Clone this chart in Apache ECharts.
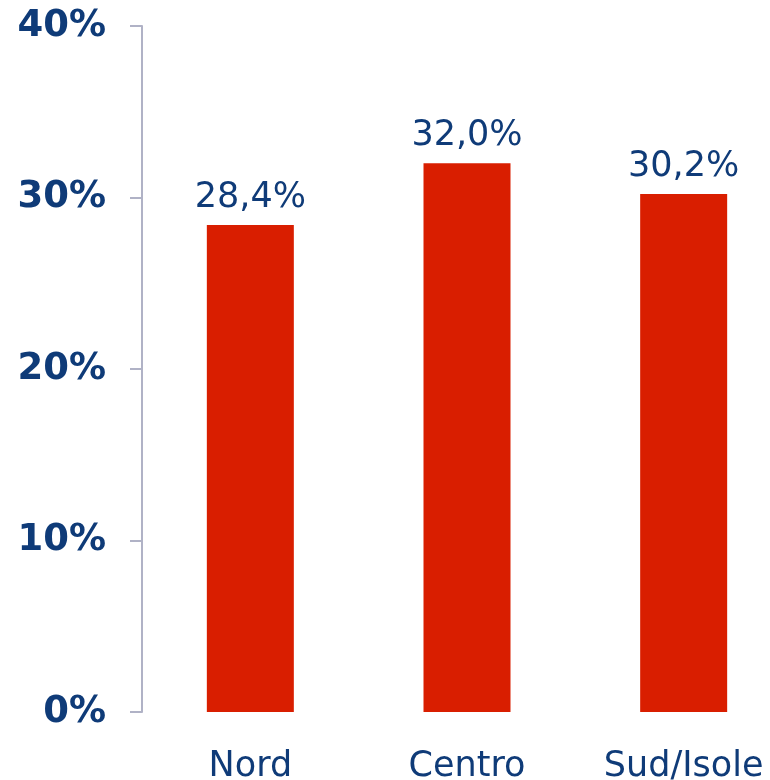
<!DOCTYPE html>
<html>
<head>
<meta charset="utf-8">
<script src="https://cdn.jsdelivr.net/npm/echarts@6/dist/echarts.min.js"></script>
<style>
  html, body { margin: 0; padding: 0; background: #fff; }
  #main { width: 770px; height: 780px; }
</style>
</head>
<body>
<div id="main"></div>
<script>
const categories = ['Nord', 'Centro', 'Sud/Isole'];
const values = [28.4, 32.0, 30.2];
const yMin = 0, yMax = 40, yStep = 10;

const textColor = '#0f3b78';
const fontFamily = 'Verdana, "DejaVu Sans", sans-serif';

const chart = echarts.init(document.getElementById('main'));
chart.setOption({
    animation: false,
    backgroundColor: '#ffffff',
    grid: {
        left: 142,
        top: 26,
        bottom: 68,
        right: -22,
        outerBoundsMode: 'none'
    },
    xAxis: {
        type: 'category',
        data: categories,
        axisLine: {show: false},
        axisTick: {show: false},
        axisLabel: {
            color: textColor,
            fontFamily: fontFamily,
            fontSize: 35,
            margin: 37
        }
    },
    yAxis: {
        type: 'value',
        min: yMin,
        max: yMax,
        interval: yStep,
        splitLine: {show: false},
        axisLine: {show: true, lineStyle: {color: '#b0b2c6', width: 2}},
        axisTick: {show: true, length: 12, lineStyle: {color: '#b0b2c6', width: 2}},
        axisLabel: {
            color: textColor,
            fontFamily: fontFamily,
            fontWeight: 'bold',
            fontSize: 37,
            margin: 36,
            formatter: '{value}%'
        }
    },
    series: [{
        type: 'bar',
        data: values,
        barWidth: 87,
        itemStyle: {color: '#d91e00'},
        label: {
            show: true,
            position: 'top',
            distance: 10,
            color: textColor,
            fontFamily: fontFamily,
            fontSize: 35,
            formatter: p => p.value.toFixed(1).replace('.', ',') + '%'
        }
    }]
});
</script>
</body>
</html>
